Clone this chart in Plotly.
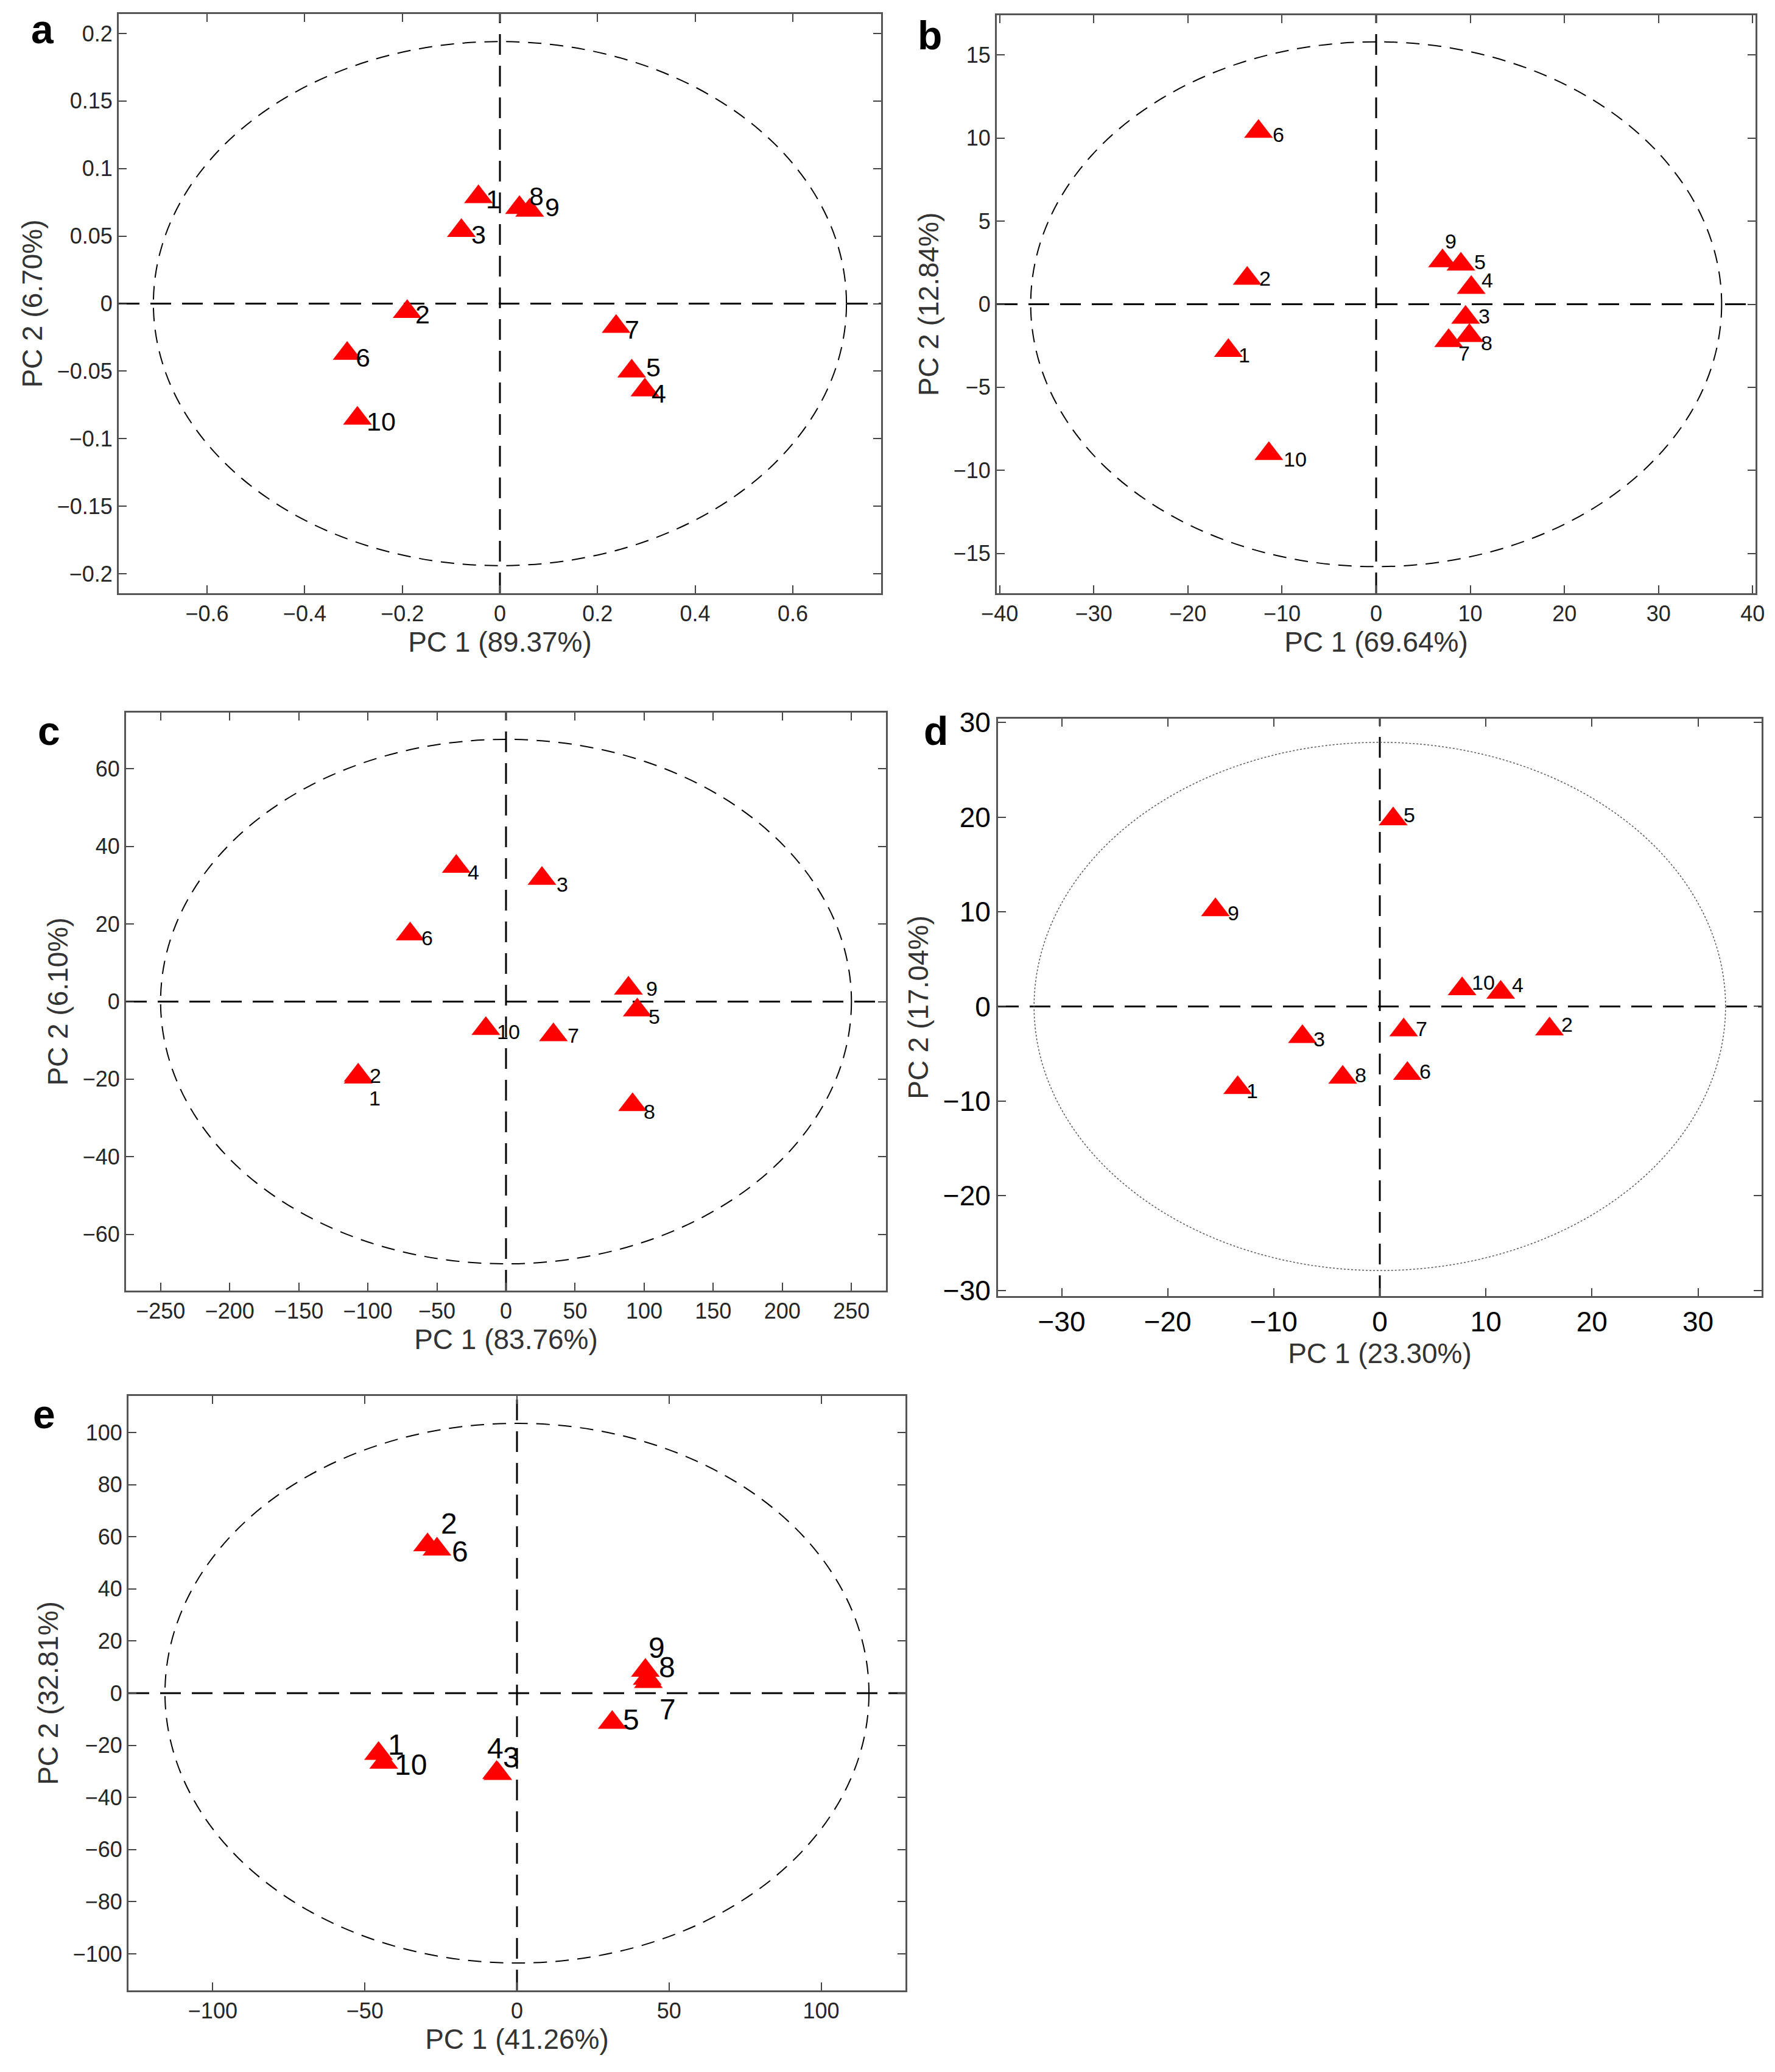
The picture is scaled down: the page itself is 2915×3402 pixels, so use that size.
import plotly.graph_objects as go

# sample ids shared by all panels
samples = ["1", "2", "3", "4", "5", "6", "7", "8", "9", "10"]

# panel a scores
a_pc1 = [-0.044, -0.19, -0.079, 0.297, 0.27, -0.313, 0.238, 0.040, 0.061, -0.292]
a_pc2 = [0.079, -0.006, 0.054, -0.064, -0.05, -0.037, -0.017, 0.071, 0.069, -0.085]
a_titles = ["PC 1 (89.37%)", "PC 2 (6.70%)"]
a_ellipse = [0.71, 0.194]
a_xticks = [-0.6, -0.4, -0.2, 0, 0.2, 0.4, 0.6]
a_xlabels = ["\u22120.6", "\u22120.4", "\u22120.2", "0", "0.2", "0.4", "0.6"]
a_yticks = [-0.2, -0.15, -0.1, -0.05, 0, 0.05, 0.1, 0.15, 0.2]
a_ylabels = ["\u22120.2", "\u22120.15", "\u22120.1", "\u22120.05", "0", "0.05", "0.1", "0.15", "0.2"]

# panel b scores
b_pc1 = [-15.7, -13.7, 9.5, 10.1, 9.0, -12.5, 7.7, 9.9, 7.05, -11.4]
b_pc2 = [-2.8, 1.55, -0.8, 1.0, 2.4, 10.4, -2.2, -1.9, 2.6, -9.0]
b_titles = ["PC 1 (69.64%)", "PC 2 (12.84%)"]
b_ellipse = [36.7, 15.8]
b_xticks = [-40, -30, -20, -10, 0, 10, 20, 30, 40]
b_xlabels = ["\u221240", "\u221230", "\u221220", "\u221210", "0", "10", "20", "30", "40"]
b_yticks = [-15, -10, -5, 0, 5, 10, 15]
b_ylabels = ["\u221215", "\u221210", "\u22125", "0", "5", "10", "15"]

# panel c scores
c_pc1 = [-107, -107, 26, -36, 95, -69.4, 34.3, 91.6, 88.6, -14.6]
c_pc2 = [-19.5, -19, 31.7, 34.8, -2.2, 17.4, -8.6, -26.6, 3.4, -7]
c_titles = ["PC 1 (83.76%)", "PC 2 (6.10%)"]
c_ellipse = [250, 67.6]
c_xticks = [-250, -200, -150, -100, -50, 0, 50, 100, 150, 200, 250]
c_xlabels = ["\u2212250", "\u2212200", "\u2212150", "\u2212100", "\u221250", "0",
             "50", "100", "150", "200", "250"]
c_yticks = [-60, -40, -20, 0, 20, 40, 60]
c_ylabels = ["\u221260", "\u221240", "\u221220", "0", "20", "40", "60"]

# panel d scores
d_pc1 = [-13.4, 16.0, -7.3, 11.4, 1.26, 2.6, 2.25, -3.5, -15.5, 7.76]
d_pc2 = [-8.6, -2.4, -3.2, 1.47, 19.8, -7.1, -2.5, -7.5, 10.2, 1.84]
d_titles = ["PC 1 (23.30%)", "PC 2 (17.04%)"]
d_ellipse = [32.6, 27.9]
d_xticks = [-30, -20, -10, 0, 10, 20, 30]
d_xlabels = ["\u221230", "\u221220", "\u221210", "0", "10", "20", "30"]
d_yticks = [-30, -20, -10, 0, 10, 20, 30]
d_ylabels = ["\u221230", "\u221220", "\u221210", "0", "10", "20", "30"]

# panel e scores
e_pc1 = [-45.5, -29.4, -6.3, -6.7, 31.3, -26.3, 43.2, 42.8, 42.2, -43.8]
e_pc2 = [-23.2, 56.8, -30.9, -30.5, -11.3, 55.2, 4.4, 5.6, 8.7, -26.6]
e_titles = ["PC 1 (41.26%)", "PC 2 (32.81%)"]
e_ellipse = [115.7, 103.5]
e_xticks = [-100, -50, 0, 50, 100]
e_xlabels = ["\u2212100", "\u221250", "0", "50", "100"]
e_yticks = [-100, -80, -60, -40, -20, 0, 20, 40, 60, 80, 100]
e_ylabels = ["\u2212100", "\u221280", "\u221260", "\u221240", "\u221220", "0",
             "20", "40", "60", "80", "100"]

# label offsets in px (dx right, dy up), one per sample
a_offsets = [(24, -4), (25, -4), (28, -6), (23, -6), (36, 6), (26, -6), (26, -5), (28, 19), (37, 5), (39, -5)]
b_offsets = [(26, -7), (29, 0), (31, 2), (26, 12), (31, 4), (33, -5), (25, -21), (28, -12), (14, 33), (43, -9)]
c_offsets = [(27, -34), (28, 0), (33, -9), (28, -9), (28, -10), (28, -6), (33, -1), (28, -11), (38, 0), (37, -5)]
d_offsets = [(24, -5), (29, 8), (28, -4), (28, 13), (27, 7), (29, 4), (29, 2), (29, 4), (29, -5), (35, 11)]
e_offsets = [(29, 15), (35, 35), (22, 27), (-2, 40), (31, 5), (38, -4), (32, -45), (33, 19), (19, 37), (44, -4)]

# the page body adds an 8px margin round the figure
W, H, PAD = 2915, 3402, 8
FW, FH = W - 2 * PAD, H - 2 * PAD
FONT = "Liberation Sans, Arial, sans-serif"


def px_x(v):
    return (v - PAD) / FW


def px_y(v):
    return 1 - (v - PAD) / FH


panels = [
    dict(letter="a", x=a_pc1, y=a_pc2, titles=a_titles, ell=a_ellipse, off=a_offsets,
         xt=(a_xticks, a_xlabels), yt=(a_yticks, a_ylabels),
         box=(195, 1447, 23, 974), xr=[-0.781, 0.781], yr=[-0.2144, 0.2144],
         lsize=43, tsize=36,
         ell_style=dict(color="black", width=2, dash="22px,14px")),
    dict(letter="b", x=b_pc1, y=b_pc2, titles=b_titles, ell=b_ellipse, off=b_offsets,
         xt=(b_xticks, b_xlabels), yt=(b_yticks, b_ylabels),
         box=(1637, 2883, 25, 974), xr=[-40.3, 40.3], yr=[-17.4, 17.4],
         lsize=34, tsize=36,
         ell_style=dict(color="black", width=2, dash="22px,14px")),
    dict(letter="c", x=c_pc1, y=c_pc2, titles=c_titles, ell=c_ellipse, off=c_offsets,
         xt=(c_xticks, c_xlabels), yt=(c_yticks, c_ylabels),
         box=(207, 1455, 1170, 2119), xr=[-275, 275], yr=[-74.5, 74.5],
         lsize=34, tsize=36,
         ell_style=dict(color="black", width=2, dash="22px,14px")),
    dict(letter="d", x=d_pc1, y=d_pc2, titles=d_titles, ell=d_ellipse, off=d_offsets,
         xt=(d_xticks, d_xlabels), yt=(d_yticks, d_ylabels),
         box=(1639, 2893, 1180, 2128), xr=[-36, 36], yr=[-30.6, 30.4],
         lsize=34, tsize=46,
         ell_style=dict(color="#555555", width=1.5, dash="dot")),
    dict(letter="e", x=e_pc1, y=e_pc2, titles=e_titles, ell=e_ellipse, off=e_offsets,
         xt=(e_xticks, e_xlabels), yt=(e_yticks, e_ylabels),
         box=(211, 1487, 2292, 3268), xr=[-127.7, 127.7], yr=[-114, 114],
         lsize=48, tsize=36,
         ell_style=dict(color="black", width=2, dash="22px,14px")),
]

fig = go.Figure()

for i, p in enumerate(panels):
    n = "" if i == 0 else str(i + 1)
    xa, ya = "x" + n, "y" + n
    left, right, top, bottom = p["box"]

    fig.add_trace(go.Scatter(
        x=p["x"], y=p["y"], mode="markers",
        marker=dict(symbol="triangle-up", size=41, color="#ff0000",
                    line=dict(width=0)),
        xaxis=xa, yaxis=ya, showlegend=False, cliponaxis=False,
    ))

    # sample numbers next to the triangles
    for px, py, name, (dx, dy) in zip(p["x"], p["y"], samples, p["off"]):
        fig.add_annotation(x=px, y=py, xref=xa, yref=ya, text=name, showarrow=False,
                           xshift=dx, yshift=dy,
                           font=dict(family=FONT, size=p["lsize"], color="black"))

    tick_color = "black" if p["letter"] == "d" else "#262626"
    common = dict(showgrid=False, zeroline=False, showline=True, mirror="ticks",
                  linecolor="#555555", linewidth=3, ticks="inside", ticklen=13,
                  tickwidth=2, tickcolor="#444444", automargin=False,
                  tickfont=dict(family=FONT, size=p["tsize"], color=tick_color),
                  title_font=dict(family=FONT, size=46, color="#333333"))
    fig.layout["xaxis" + n] = dict(
        common, domain=[px_x(left), px_x(right)], range=p["xr"], anchor=ya,
        tickvals=p["xt"][0], ticktext=p["xt"][1],
        title=dict(text=p["titles"][0], standoff=8))
    fig.layout["yaxis" + n] = dict(
        common, domain=[px_y(bottom), px_y(top)], range=p["yr"], anchor=xa,
        tickvals=p["yt"][0], ticktext=p["yt"][1],
        title=dict(text=p["titles"][1], standoff=10))

    # confidence ellipse
    rx, ry = p["ell"]
    fig.add_shape(type="circle", xref=xa, yref=ya, x0=-rx, x1=rx, y0=-ry, y1=ry,
                  line=p["ell_style"], layer="below")
    # zero lines
    zl = dict(color="black", width=3, dash="34px,18px")
    fig.add_shape(type="line", xref=xa, yref=ya + " domain", x0=0, x1=0, y0=0, y1=1,
                  line=zl, layer="below")
    fig.add_shape(type="line", xref=xa + " domain", yref=ya, x0=0, x1=1, y0=0, y1=0,
                  line=zl, layer="below")

# panel letters
letter_pos = {"a": (70, 48), "b": (1527, 58), "c": (80, 1200), "d": (1537, 1200), "e": (72, 2322)}
for letter, (px, py) in letter_pos.items():
    fig.add_annotation(text="<b>%s</b>" % letter, x=px_x(px), y=px_y(py),
                       xref="paper", yref="paper", xanchor="center", yanchor="middle",
                       showarrow=False, font=dict(family=FONT, size=66, color="black"))

fig.update_layout(width=FW, height=FH, margin=dict(l=0, r=0, t=0, b=0),
                  plot_bgcolor="white", paper_bgcolor="white")

fig.write_html("out.html")
